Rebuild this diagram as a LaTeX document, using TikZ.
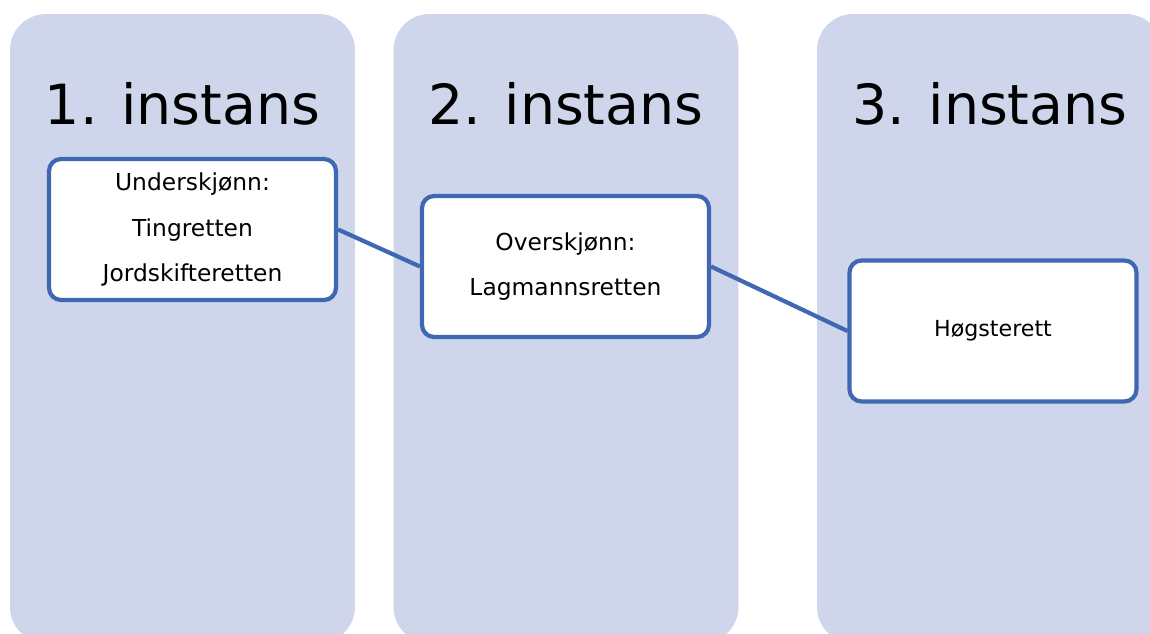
\documentclass[tikz,border=0pt]{standalone}
\usepackage{fontspec}
\setmainfont{DejaVu Sans}
\usepackage{tikz}
\usetikzlibrary{positioning}
\definecolor{courtfill}{HTML}{CFD5EA}
\definecolor{courtblue}{HTML}{4068B2}

\begin{document}
\begin{tikzpicture}[
    x=0.02cm, y=-0.02cm,
    column/.style={rectangle, rounded corners=0.72cm, fill=courtfill,
                   minimum width=6.9cm, minimum height=12.58cm, inner sep=0pt},
    heading/.style={anchor=base, font=\fontsize{31.5}{36}\selectfont},
    court/.style={rectangle, rounded corners=0.24cm, draw=courtblue, fill=white,
                  line width=2.4pt, minimum width=5.74cm, minimum height=2.82cm,
                  align=center, font=\fontsize{13.3}{26}\selectfont},
    link/.style={draw=courtblue, line width=2.4pt}
]
\useasboundingbox (0,0) rectangle (1150,634);
\clip (0,0) rectangle (1150,634);

\node[column] (col1) at (182.5,328.5) {};
\node[column] (col2) at (566,328.5)   {};
\node[column] (col3) at (989.5,328.5) {};

\node[heading] (head1) at (182.5,125) {1. instans};
\node[heading] (head2) at (566,125)   {2. instans};
\node[heading] (head3) at (990,125)   {3. instans};

\node[court] (under) at (192.5,229.5) {Underskjønn:\\Tingretten\\Jordskifteretten};
\node[court] (over)  at (565.5,266.5) {Overskjønn:\\Lagmannsretten};
\node[court, font=\fontsize{12.6}{26}\selectfont] (hoy) at (993,331) {Høgsterett};

\draw[link] (under.east) -- (over.west);
\draw[link] (over.east) -- (hoy.west);
\end{tikzpicture}
\end{document}
